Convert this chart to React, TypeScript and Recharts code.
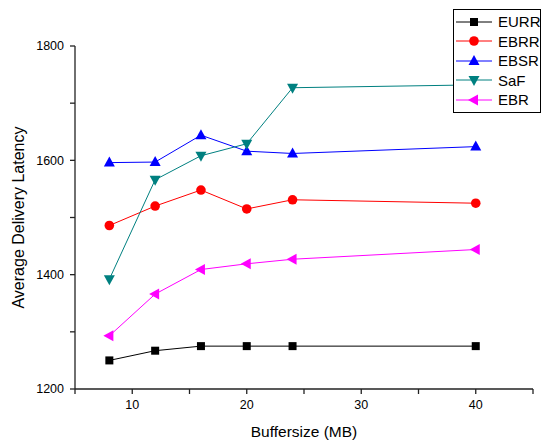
import React from 'react';
import { LineChart, Line, XAxis, YAxis, Legend } from 'recharts';

const bufferSizes = [8, 12, 16, 20, 24, 40];
const eurr = [1250, 1267, 1275, 1275, 1275, 1275];
const ebrr = [1486, 1520, 1548, 1515, 1531, 1525];
const ebsr = [1596, 1597, 1644, 1616, 1612, 1624];
const saf = [1392, 1566, 1608, 1629, 1727, 1732];
const ebr = [1293, 1366, 1409, 1419, 1427, 1444];

const xTicks = [5, 10, 15, 20, 25, 30, 35, 40, 45];
const yTicks = [1200, 1300, 1400, 1500, 1600, 1700, 1800];

const series = [
  { key: 'EURR', values: eurr, color: '#000000', shape: 'square' },
  { key: 'EBRR', values: ebrr, color: '#ff0000', shape: 'circle' },
  { key: 'EBSR', values: ebsr, color: '#0000ff', shape: 'up' },
  { key: 'SaF', values: saf, color: '#008080', shape: 'down' },
  { key: 'EBR', values: ebr, color: '#ff00ff', shape: 'left' },
];

const data = bufferSizes.map((x, i) => {
  const row: Record<string, number> = { size: x };
  series.forEach((s) => (row[s.key] = s.values[i]));
  return row;
});

const FONT = '"Liberation Sans", Arial, sans-serif';

const Marker = ({ cx, cy, shape, color }: any) => {
  if (cx == null || cy == null) return null;
  switch (shape) {
    case 'square':
      return <rect x={cx - 4} y={cy - 4} width={8} height={8} fill={color} />;
    case 'circle':
      return <circle cx={cx} cy={cy} r={4.8} fill={color} />;
    case 'up':
      return <polygon points={`${cx},${cy - 6} ${cx - 5.5},${cy + 4} ${cx + 5.5},${cy + 4}`} fill={color} />;
    case 'down':
      return <polygon points={`${cx - 5.5},${cy - 4} ${cx + 5.5},${cy - 4} ${cx},${cy + 6}`} fill={color} />;
    default:
      return <polygon points={`${cx - 6},${cy} ${cx + 4},${cy - 5.5} ${cx + 4},${cy + 5.5}`} fill={color} />;
  }
};

const LegendBox = () => (
  <div
    style={{
      border: '1px solid #000',
      background: '#fff',
      width: 88,
      padding: '2px 0',
      fontFamily: FONT,
      fontSize: 15,
      boxSizing: 'border-box',
    }}
  >
    {series.map((s) => (
      <div key={s.key} style={{ display: 'flex', alignItems: 'center', height: 19.5 }}>
        <svg width={42} height={14} style={{ flexShrink: 0 }}>
          <line x1={2} y1={7} x2={38} y2={7} stroke={s.color} strokeWidth={1} />
          <Marker cx={20} cy={7} shape={s.shape} color={s.color} />
        </svg>
        <span style={{ marginLeft: 2, color: '#000' }}>{s.key}</span>
      </div>
    ))}
  </div>
);

export default function App() {
  return (
    <div style={{ position: 'absolute', left: 0, top: 0, width: 543, height: 445, background: '#fff' }}>
      <LineChart
        width={543}
        height={445}
        data={data}
        margin={{ top: 46, right: 10, left: 15, bottom: 16 }}
        style={{ fontFamily: FONT }}
      >
        <XAxis
          dataKey="size"
          type="number"
          domain={[5, 45]}
          ticks={xTicks}
          tickFormatter={(v: number) => (v % 10 === 0 ? String(v) : '')}
          stroke="#222"
          strokeWidth={1.3}
          tickSize={5}
          tickMargin={6}
          tick={{ fontSize: 12.5, fill: '#000' }}
          height={40}
          label={{ value: 'Buffersize (MB)', position: 'insideBottom', offset: -8, fontSize: 15.5, fill: '#000' }}
        />
        <YAxis
          type="number"
          domain={[1200, 1800]}
          ticks={yTicks}
          tickFormatter={(v: number) => (v % 200 === 0 ? String(v) : '')}
          stroke="#222"
          strokeWidth={1.3}
          tickSize={5}
          tickMargin={6}
          tick={{ fontSize: 12.5, fill: '#000' }}
          width={60}
          label={{
            value: 'Average Delivery Latency',
            angle: -90,
            position: 'insideLeft',
            offset: 3,
            style: { textAnchor: 'middle' },
            fontSize: 16,
            fill: '#000',
          }}
        />
        {series.map((s) => (
          <Line
            key={s.key}
            dataKey={s.key}
            type="linear"
            stroke={s.color}
            strokeWidth={1}
            isAnimationActive={false}
            dot={(p: any) => <Marker key={`${s.key}-${p.index}`} cx={p.cx} cy={p.cy} shape={s.shape} color={s.color} />}
            activeDot={false}
          />
        ))}
        <Legend
          layout="horizontal"
          verticalAlign="middle"
          align="center"
          content={() => <LegendBox />}
          wrapperStyle={{ top: 9, left: 453, width: 89, height: 100 }}
        />
      </LineChart>
    </div>
  );
}
